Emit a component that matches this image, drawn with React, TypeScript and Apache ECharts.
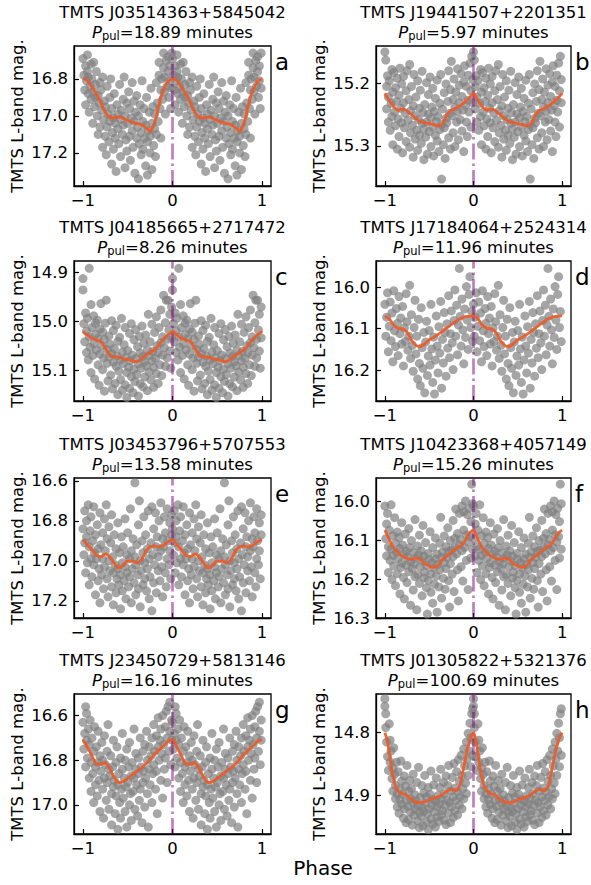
import React, { useEffect, useRef } from 'react';
import * as echarts from 'echarts';

const FONT = 'DejaVu Sans';

// star names, periods (minutes) and panel letters
const starNames = [
  'TMTS J03514363+5845042', 'TMTS J19441507+2201351',
  'TMTS J04185665+2717472', 'TMTS J17184064+2524314',
  'TMTS J03453796+5707553', 'TMTS J10423368+4057149',
  'TMTS J23450729+5813146', 'TMTS J01305822+5321376',
];
const periods = ['18.89', '5.97', '8.26', '11.96', '13.58', '15.26', '16.16', '100.69'];
const letters = ['a', 'b', 'c', 'd', 'e', 'f', 'g', 'h'];

// y-axis (magnitude) limits, bright at top
const yLimits = [
  [16.622, 17.379], [15.1405, 15.364],
  [14.876, 15.162], [15.936, 16.275],
  [16.586, 17.286], [15.94, 16.3],
  [16.503, 17.131], [14.7386, 14.961],
];
const yTicks = [
  [16.8, 17.0, 17.2], [15.2, 15.3],
  [14.9, 15.0, 15.1], [16.0, 16.1, 16.2],
  [16.6, 16.8, 17.0, 17.2], [16.0, 16.1, 16.2, 16.3],
  [16.6, 16.8, 17.0], [14.8, 14.9],
];
const xTicks = [-1, 0, 1];

// folded photometry, phase 0..1 (shown twice, -1..1)
const ptsA = [[.00,16.69],[.01,16.78],[.02,16.86],[.03,16.73],[.03,16.94],[.04,16.81],[.05,16.76],
[.05,16.67],[.06,16.88],[.06,16.79],[.07,16.98],[.08,16.84],[.09,16.72],[.09,16.91],
[.10,16.80],[.11,17.04],[.11,16.87],[.12,16.71],[.13,16.95],[.14,16.83],[.14,16.90],
[.15,16.76],[.16,17.00],[.17,16.89],[.17,17.10],[.18,16.93],[.19,16.82],[.19,17.06],
[.20,16.86],[.21,16.97],[.22,17.17],[.22,16.79],[.23,17.02],[.24,16.92],[.25,17.11],
[.25,16.95],[.26,17.21],[.27,16.84],[.27,17.06],[.28,16.99],[.29,17.14],[.30,16.90],
[.30,17.03],[.31,16.80],[.32,17.26],[.32,16.96],[.33,17.09],[.34,17.01],[.34,17.18],
[.35,16.88],[.36,17.12],[.36,17.04],[.37,17.30],[.38,16.94],[.39,17.07],[.39,16.99],
[.40,17.15],[.41,16.83],[.42,17.02],[.42,17.22],[.43,16.97],[.44,17.10],[.45,16.91],
[.45,17.05],[.46,16.79],[.47,17.28],[.47,17.00],[.48,17.13],[.49,16.93],[.49,17.19],
[.50,17.04],[.51,16.87],[.52,17.11],[.52,16.96],[.53,17.24],[.54,17.01],[.55,16.82],
[.55,17.08],[.56,17.17],[.57,16.92],[.57,17.03],[.58,17.31],[.59,16.98],[.60,17.12],
[.60,16.89],[.61,17.06],[.62,17.34],[.62,17.00],[.63,17.15],[.64,16.94],[.65,17.21],
[.65,17.09],[.66,16.81],[.67,17.03],[.67,17.18],[.68,16.96],[.69,17.12],[.70,17.27],
[.70,17.05],[.71,16.90],[.72,17.14],[.72,17.32],[.73,17.08],[.74,16.98],[.75,17.20],
[.75,17.11],[.76,16.85],[.77,17.29],[.77,17.04],[.78,16.95],[.79,17.16],[.80,17.07],
[.80,16.99],[.81,17.22],[.82,16.82],[.82,17.10],[.83,16.93],[.84,17.03],[.85,16.78],
[.85,16.71],[.86,16.96],[.87,16.86],[.87,17.12],[.88,16.80],[.89,16.91],[.90,16.74],
[.90,16.66],[.91,16.87],[.91,16.79],[.92,16.99],[.93,16.70],[.94,16.84],[.95,16.76],
[.95,16.68],[.96,16.90],[.97,16.81],[.97,16.73],[.98,16.96],[.99,16.66],[.99,16.85]];

const ptsB = [[.00,15.150],[.01,15.163],[.02,15.205],[.02,15.241],[.03,15.188],[.04,15.262],[.04,15.222],
[.05,15.196],[.06,15.275],[.07,15.232],[.08,15.178],[.08,15.253],[.09,15.214],[.09,15.298],
[.10,15.183],[.11,15.246],[.12,15.268],[.12,15.207],[.13,15.229],[.14,15.305],[.14,15.192],
[.15,15.257],[.16,15.219],[.16,15.285],[.17,15.176],[.18,15.240],[.19,15.263],[.19,15.201],
[.20,15.311],[.21,15.231],[.21,15.189],[.22,15.271],[.23,15.248],[.24,15.212],[.24,15.293],
[.25,15.180],[.26,15.259],[.27,15.226],[.28,15.302],[.28,15.170],[.29,15.244],[.29,15.279],
[.30,15.205],[.31,15.267],[.32,15.236],[.32,15.318],[.33,15.186],[.34,15.252],[.34,15.289],
[.35,15.222],[.36,15.275],[.37,15.196],[.37,15.307],[.38,15.258],[.39,15.240],[.39,15.283],
[.40,15.211],[.41,15.296],[.42,15.264],[.42,15.181],[.43,15.247],[.44,15.322],[.44,15.273],
[.45,15.234],[.46,15.286],[.47,15.199],[.47,15.262],[.48,15.313],[.49,15.249],[.49,15.218],
[.50,15.277],[.51,15.190],[.52,15.255],[.52,15.301],[.53,15.238],[.54,15.270],[.54,15.208],
[.55,15.316],[.56,15.245],[.57,15.283],[.57,15.224],[.58,15.261],[.59,15.195],[.59,15.292],
[.60,15.253],[.61,15.309],[.62,15.232],[.62,15.274],[.63,15.186],[.64,15.353],[.64,15.266],
[.65,15.241],[.66,15.298],[.67,15.215],[.67,15.271],[.68,15.320],[.69,15.256],[.69,15.201],
[.70,15.263],[.71,15.229],[.72,15.287],[.72,15.180],[.73,15.248],[.74,15.305],[.74,15.210],
[.75,15.165],[.76,15.252],[.77,15.226],[.77,15.279],[.78,15.193],[.79,15.238],[.79,15.301],
[.80,15.214],[.81,15.262],[.82,15.177],[.82,15.245],[.83,15.290],[.84,15.203],[.84,15.231],
[.85,15.258],[.86,15.185],[.87,15.221],[.87,15.276],[.88,15.243],[.89,15.198],[.89,15.309],
[.90,15.172],[.91,15.236],[.92,15.262],[.92,15.205],[.93,15.285],[.94,15.227],[.94,15.187],
[.95,15.246],[.96,15.168],[.97,15.212],[.97,15.270],[.98,15.157],[.99,15.231],[.99,15.194]];

const ptsC = [[.00,14.912],[.00,14.935],[.01,15.004],[.02,15.041],[.03,14.982],[.04,15.063],[.04,15.019],
[.05,14.993],[.06,15.078],[.07,14.891],[.07,15.031],[.08,15.052],[.09,14.965],[.09,15.104],
[.10,15.012],[.11,15.069],[.12,14.988],[.12,15.045],[.13,15.117],[.14,15.026],[.14,15.003],
[.15,15.058],[.16,14.997],[.17,15.088],[.17,15.034],[.18,15.130],[.19,15.015],[.19,15.066],
[.20,14.963],[.21,15.049],[.22,15.098],[.22,15.021],[.23,15.074],[.24,15.142],[.24,15.036],
[.25,15.003],[.26,14.956],[.27,15.085],[.27,15.057],[.28,15.121],[.29,15.029],[.29,15.072],
[.30,15.046],[.31,15.109],[.32,14.998],[.32,15.065],[.33,15.137],[.34,15.083],[.34,15.018],
[.35,15.055],[.36,15.126],[.37,15.091],[.37,15.007],[.38,15.070],[.39,15.149],[.39,15.040],
[.40,15.101],[.41,15.032],[.42,15.078],[.42,15.118],[.43,14.993],[.44,15.062],[.44,15.140],
[.45,15.086],[.46,15.047],[.47,15.129],[.47,15.012],[.48,15.073],[.49,15.104],[.49,15.155],
[.50,15.059],[.51,15.093],[.52,15.024],[.52,15.136],[.53,15.080],[.54,15.004],[.54,15.112],
[.55,15.068],[.56,15.145],[.57,15.037],[.57,15.097],[.58,15.122],[.59,15.075],[.59,15.016],
[.60,15.108],[.61,15.051],[.62,15.152],[.62,15.086],[.63,15.030],[.64,15.127],[.64,15.064],
[.65,15.095],[.66,15.009],[.67,15.071],[.67,15.133],[.68,15.044],[.69,15.113],[.69,15.082],
[.70,15.027],[.71,15.090],[.72,15.141],[.72,15.058],[.73,14.985],[.74,15.103],[.74,15.069],
[.75,15.041],[.76,15.119],[.77,15.080],[.77,15.005],[.78,15.061],[.79,15.134],[.79,15.093],
[.80,15.022],[.81,15.075],[.82,14.990],[.82,15.106],[.83,15.049],[.84,15.126],[.84,15.064],
[.85,15.012],[.86,15.088],[.87,14.976],[.87,15.043],[.88,15.110],[.89,15.031],[.89,15.068],
[.90,14.946],[.91,15.053],[.92,15.002],[.92,15.091],[.93,14.956],[.94,15.036],[.94,15.074],
[.95,14.956],[.96,15.017],[.97,15.060],[.97,14.985],[.98,15.095],[.99,15.033],[.99,14.970]];

const ptsD = [[.00,16.041],[.01,16.118],[.02,16.072],[.03,16.013],[.04,16.156],
[.05,16.094],[.06,16.035],[.07,16.129],[.08,16.062],[.09,16.180],
[.10,16.008],[.11,16.105],[.12,16.143],[.13,16.051],[.14,16.087],
[.15,16.165],[.16,16.022],[.17,16.112],[.18,16.074],[.19,16.137],
[.20,16.046],[.21,16.190],[.22,16.098],[.23,16.131],[.24,16.015],
[.25,16.083],[.26,16.152],[.27,16.118],[.28,15.995],[.29,16.172],
[.30,16.066],[.31,16.140],[.32,16.203],[.33,16.097],[.34,16.031],
[.35,16.161],[.36,16.118],[.37,16.222],[.38,16.077],[.39,16.184],
[.40,16.238],[.41,16.049],[.42,16.146],[.43,16.196],[.44,16.109],
[.45,16.255],[.46,16.132],[.47,16.082],[.48,16.213],[.49,16.166],
[.50,16.104],[.51,16.188],[.52,16.041],[.53,16.149],[.54,16.230],
[.55,16.120],[.56,16.258],[.57,16.176],[.58,16.069],[.59,16.142],
[.60,16.207],[.61,16.095],[.62,16.159],[.63,16.034],[.64,16.244],
[.65,16.126],[.66,16.183],[.67,16.061],[.68,16.109],[.69,16.215],
[.70,16.088],[.71,16.147],[.72,16.020],[.73,16.170],[.74,16.112],
[.75,16.057],[.76,16.134],[.77,16.199],[.78,16.080],[.79,16.006],
[.80,16.118],[.81,16.043],[.82,16.163],[.83,16.091],[.84,15.954],
[.85,16.070],[.86,16.142],[.87,16.028],[.88,16.103],[.89,16.185],
[.90,16.052],[.91,16.121],[.92,15.998],[.93,16.079],[.94,16.150],
[.95,16.017],[.96,15.974],[.97,16.097],[.98,16.058],[.99,16.131]];

const ptsE = [[.00,16.84],[.01,16.97],[.02,16.75],[.02,16.91],[.03,17.06],[.04,16.88],[.04,16.80],
[.05,17.01],[.06,16.72],[.07,16.93],[.07,17.12],[.08,16.85],[.09,16.99],[.09,16.78],
[.10,17.08],[.11,16.90],[.12,16.73],[.12,17.02],[.13,16.96],[.14,17.17],[.14,16.87],
[.15,16.99],[.16,16.82],[.17,17.10],[.17,16.94],[.18,17.04],[.19,16.76],[.19,17.21],
[.20,16.92],[.21,17.07],[.22,16.86],[.22,16.99],[.23,17.14],[.24,16.79],[.24,17.03],
[.25,16.95],[.26,16.72],[.27,17.09],[.27,16.89],[.28,17.18],[.29,17.00],[.29,16.83],
[.30,17.05],[.31,16.91],[.32,17.13],[.32,16.77],[.33,16.98],[.34,17.22],[.34,17.06],
[.35,16.87],[.36,17.02],[.37,17.16],[.37,16.94],[.38,17.09],[.39,16.81],[.39,17.04],
[.40,17.12],[.41,16.96],[.42,17.24],[.42,17.07],[.43,16.88],[.44,17.01],[.44,17.15],
[.45,16.93],[.46,17.10],[.47,16.79],[.47,17.03],[.48,17.19],[.49,16.97],[.49,17.06],
[.50,16.86],[.51,17.13],[.52,16.99],[.52,17.08],[.53,16.74],[.54,17.21],[.54,16.95],
[.55,17.04],[.56,16.89],[.57,17.11],[.58,16.61],[.58,16.98],[.59,17.17],[.59,17.02],
[.60,16.92],[.61,17.07],[.62,16.82],[.62,17.14],[.63,16.70],[.64,17.00],[.64,17.23],
[.65,17.05],[.66,16.90],[.67,17.12],[.67,16.96],[.68,16.78],[.69,17.09],[.69,17.01],
[.70,16.87],[.71,17.15],[.72,16.94],[.72,17.04],[.73,16.75],[.74,17.19],[.74,16.99],
[.75,17.08],[.76,16.91],[.77,16.73],[.77,17.25],[.78,16.97],[.79,17.11],[.79,16.84],
[.80,17.02],[.81,16.76],[.82,16.93],[.82,17.16],[.83,16.88],[.84,17.05],[.84,16.98],
[.85,16.80],[.86,17.10],[.87,16.95],[.87,16.71],[.88,17.03],[.89,16.89],[.89,17.18],
[.90,16.93],[.91,16.78],[.92,17.06],[.92,16.86],[.93,17.13],[.94,16.99],[.94,16.74],
[.95,16.90],[.96,17.02],[.97,16.81],[.97,16.95],[.98,17.09],[.99,16.87],[.99,16.77]];

const ptsF = [[.00,16.012],[.01,16.096],[.02,16.058],[.02,16.140],[.03,16.031],[.04,16.117],[.04,16.183],
[.05,16.074],[.06,16.152],[.07,16.009],[.07,16.123],[.08,16.201],[.09,16.088],[.09,16.139],
[.10,16.166],[.11,16.042],[.12,16.108],[.12,16.217],[.13,16.131],[.14,16.079],[.14,16.186],
[.15,16.147],[.16,16.093],[.17,16.238],[.17,16.121],[.18,16.170],[.19,16.055],[.19,16.158],
[.20,16.112],[.21,16.196],[.22,16.137],[.22,16.251],[.23,16.084],[.24,16.164],[.24,16.128],
[.25,16.209],[.26,16.143],[.27,16.070],[.27,16.181],[.28,16.119],[.29,16.267],[.29,16.155],
[.30,16.101],[.31,16.173],[.32,16.132],[.32,16.228],[.33,16.161],[.34,16.047],[.34,16.194],
[.35,16.146],[.36,16.279],[.37,16.115],[.37,16.189],[.38,16.138],[.39,16.211],[.39,16.087],
[.40,16.168],[.41,16.127],[.42,16.243],[.42,16.153],[.43,16.062],[.44,16.197],[.44,16.141],
[.45,16.182],[.46,16.106],[.47,16.222],[.47,16.165],[.48,16.290],[.49,16.134],[.49,16.203],
[.50,16.149],[.51,16.078],[.52,16.186],[.52,16.234],[.53,16.157],[.54,16.119],[.54,16.262],
[.55,16.171],[.56,16.213],[.57,16.094],[.57,16.148],[.58,16.192],[.59,16.285],[.59,16.136],
[.60,16.162],[.61,16.220],[.62,16.108],[.62,16.176],[.63,16.041],[.64,16.144],[.64,16.249],
[.65,16.130],[.66,16.198],[.67,16.089],[.67,16.158],[.68,16.226],[.69,16.117],[.69,16.173],
[.70,16.144],[.71,16.068],[.72,16.204],[.72,16.129],[.73,16.272],[.74,16.101],[.74,16.160],
[.75,16.125],[.76,16.187],[.77,16.049],[.77,16.142],[.78,16.232],[.79,16.095],[.79,16.118],
[.80,16.020],[.81,16.135],[.82,16.176],[.82,16.083],[.83,16.256],[.84,16.112],[.84,16.031],
[.85,16.098],[.86,16.168],[.87,16.012],[.87,16.127],[.88,16.205],[.89,16.074],[.89,16.027],
[.90,16.119],[.91,15.999],[.92,16.152],[.92,16.086],[.93,16.034],[.94,16.227],[.94,16.105],
[.95,16.018],[.96,16.091],[.97,16.146],[.97,16.052],[.98,15.956],[.99,16.123],[.99,16.006]];

const ptsG = [[.00,16.63],[.01,16.75],[.02,16.68],[.03,16.56],[.03,16.83],[.04,16.71],[.04,16.59],
[.05,16.79],[.06,16.66],[.07,16.88],[.07,16.73],[.08,16.62],[.09,16.81],[.09,16.94],
[.10,16.70],[.11,16.86],[.12,16.76],[.12,16.99],[.13,16.65],[.14,16.83],[.14,16.91],
[.15,16.74],[.16,16.96],[.17,16.81],[.17,16.67],[.18,16.89],[.19,17.03],[.19,16.78],
[.20,16.85],[.21,16.72],[.22,16.93],[.22,16.80],[.23,17.06],[.24,16.88],[.24,16.69],
[.25,16.82],[.26,16.98],[.27,16.76],[.27,16.90],[.28,16.64],[.29,16.84],[.29,17.02],
[.30,16.87],[.31,16.78],[.32,16.95],[.32,17.09],[.33,16.83],[.34,16.71],[.34,16.92],
[.35,16.89],[.36,17.04],[.37,16.81],[.37,16.96],[.38,16.74],[.39,16.91],[.39,17.11],
[.40,16.86],[.41,16.99],[.42,16.79],[.42,17.06],[.43,16.93],[.44,16.84],[.44,16.68],
[.45,16.97],[.46,16.88],[.47,17.03],[.47,16.80],[.48,16.92],[.49,17.10],[.49,16.75],
[.50,16.90],[.51,16.83],[.52,17.00],[.52,16.72],[.53,16.95],[.54,16.87],[.54,17.07],
[.55,16.81],[.56,16.94],[.57,16.66],[.57,16.88],[.58,17.02],[.59,16.84],[.59,16.77],
[.60,16.91],[.61,17.05],[.62,16.79],[.62,16.86],[.63,16.98],[.64,16.70],[.64,16.93],
[.65,16.83],[.66,17.08],[.67,16.76],[.67,16.90],[.68,16.85],[.69,17.01],[.69,16.73],
[.70,16.88],[.71,16.67],[.72,16.95],[.72,16.80],[.73,17.10],[.74,16.84],[.74,16.74],
[.75,16.91],[.76,16.78],[.77,16.99],[.77,16.70],[.78,16.86],[.79,16.64],[.79,16.82],
[.80,16.76],[.81,16.93],[.82,16.69],[.82,16.85],[.83,17.04],[.84,16.74],[.84,16.61],
[.85,16.80],[.86,16.71],[.87,16.89],[.87,16.66],[.88,16.77],[.89,16.97],[.89,16.60],
[.90,16.73],[.91,16.84],[.92,16.65],[.92,16.79],[.93,16.58],[.94,16.90],[.94,16.70],
[.95,16.56],[.96,16.76],[.97,16.54],[.97,16.67],[.98,16.82],[.99,16.62],[.99,16.71]];

const ptsH = [[.00,14.746],[.00,14.758],[.01,14.770],[.01,14.792],[.02,14.815],[.03,14.838],[.04,14.860],
[.05,14.786],[.06,14.812],[.06,14.847],[.07,14.829],[.08,14.873],[.09,14.856],[.09,14.893],
[.10,14.824],[.11,14.866],[.12,14.905],[.12,14.884],[.13,14.847],[.14,14.897],[.14,14.918],
[.15,14.862],[.16,14.928],[.17,14.889],[.17,14.906],[.18,14.845],[.19,14.914],[.19,14.877],
[.20,14.898],[.21,14.936],[.22,14.869],[.22,14.921],[.23,14.885],[.24,14.943],[.24,14.908],
[.25,14.852],[.26,14.917],[.27,14.893],[.27,14.938],[.28,14.876],[.29,14.905],[.29,14.926],
[.30,14.889],[.31,14.947],[.32,14.912],[.32,14.866],[.33,14.931],[.34,14.899],[.34,14.921],
[.35,14.908],[.36,14.879],[.37,14.940],[.37,14.916],[.38,14.855],[.39,14.927],[.39,14.951],
[.40,14.903],[.41,14.933],[.42,14.884],[.42,14.919],[.43,14.948],[.44,14.896],[.44,14.925],
[.45,14.868],[.46,14.912],[.47,14.942],[.47,14.902],[.48,14.929],[.49,14.887],[.49,14.954],
[.50,14.921],[.51,14.898],[.52,14.937],[.52,14.861],[.53,14.915],[.54,14.945],[.54,14.906],
[.55,14.883],[.56,14.926],[.57,14.909],[.57,14.950],[.58,14.872],[.59,14.918],[.59,14.934],
[.60,14.900],[.61,14.941],[.62,14.887],[.62,14.913],[.63,14.858],[.64,14.930],[.64,14.905],
[.65,14.924],[.66,14.879],[.67,14.939],[.67,14.897],[.68,14.916],[.69,14.869],[.69,14.946],
[.70,14.907],[.71,14.884],[.72,14.928],[.72,14.852],[.73,14.911],[.74,14.943],[.74,14.893],
[.75,14.918],[.76,14.871],[.77,14.935],[.77,14.902],[.78,14.849],[.79,14.924],[.79,14.888],
[.80,14.908],[.81,14.862],[.82,14.931],[.82,14.894],[.83,14.843],[.84,14.915],[.84,14.877],
[.85,14.902],[.86,14.836],[.87,14.921],[.87,14.868],[.88,14.889],[.89,14.826],[.89,14.905],
[.90,14.853],[.91,14.880],[.92,14.815],[.92,14.897],[.93,14.842],[.94,14.868],[.94,14.801],
[.95,14.829],[.96,14.785],[.97,14.854],[.97,14.808],[.98,14.770],[.99,14.762],[.99,14.836]];

// smoothed mean light curves, phase 0..1
const curveA = [[0,16.80],[.04,16.805],[.08,16.83],[.12,16.86],[.16,16.89],[.2,16.93],[.24,16.97],[.28,17.0],[.32,17.01],[.36,17.01],[.4,17.005],[.44,17.01],[.48,17.02],[.52,17.03],[.56,17.035],[.6,17.04],[.64,17.045],[.68,17.055],[.72,17.07],[.75,17.085],[.78,17.06],[.81,17.02],[.84,16.96],[.87,16.9],[.9,16.86],[.93,16.83],[.96,16.81],[1,16.80]];
const curveB = [[0,15.216],[.05,15.228],[.1,15.237],[.15,15.243],[.2,15.241],[.25,15.244],[.3,15.25],[.35,15.256],[.4,15.261],[.45,15.263],[.5,15.264],[.55,15.266],[.6,15.268],[.65,15.265],[.7,15.25],[.75,15.243],[.8,15.24],[.85,15.236],[.9,15.23],[.95,15.224],[1,15.216]];
const curveC = [[0,15.020],[.05,15.027],[.1,15.034],[.15,15.037],[.2,15.041],[.25,15.054],[.3,15.068],[.35,15.072],[.4,15.072],[.45,15.076],[.5,15.077],[.55,15.08],[.6,15.082],[.65,15.076],[.7,15.069],[.75,15.063],[.8,15.057],[.85,15.047],[.9,15.035],[.95,15.027],[1,15.020]];
const curveD = [[0,16.069],[.05,16.076],[.1,16.091],[.15,16.099],[.2,16.1],[.25,16.108],[.3,16.127],[.35,16.14],[.4,16.143],[.45,16.136],[.5,16.127],[.55,16.121],[.6,16.114],[.65,16.106],[.7,16.098],[.75,16.09],[.8,16.082],[.85,16.076],[.9,16.071],[.95,16.07],[1,16.069]];
const curveE = [[0,16.895],[.05,16.92],[.1,16.945],[.15,16.97],[.2,16.98],[.25,16.965],[.3,16.98],[.35,17.012],[.4,17.037],[.45,17.022],[.5,17.0],[.55,17.0],[.6,17.01],[.65,16.997],[.7,16.955],[.75,16.93],[.8,16.927],[.85,16.93],[.9,16.922],[.95,16.905],[1,16.895]];
const curveF = [[0,16.074],[.05,16.098],[.1,16.12],[.15,16.132],[.2,16.141],[.25,16.147],[.3,16.149],[.35,16.146],[.4,16.149],[.45,16.16],[.5,16.166],[.55,16.17],[.6,16.165],[.65,16.149],[.7,16.141],[.75,16.132],[.8,16.122],[.85,16.115],[.9,16.103],[.95,16.083],[1,16.074]];
const curveG = [[0,16.708],[.05,16.742],[.1,16.78],[.15,16.815],[.2,16.818],[.25,16.812],[.3,16.84],[.35,16.877],[.4,16.9],[.45,16.895],[.5,16.88],[.55,16.865],[.6,16.85],[.65,16.835],[.7,16.818],[.75,16.796],[.8,16.773],[.85,16.754],[.9,16.735],[.95,16.717],[1,16.708]];
const curveH = [[0,14.8],[.03,14.815],[.06,14.842],[.09,14.868],[.12,14.885],[.16,14.894],[.2,14.897],[.25,14.9],[.3,14.906],[.35,14.91],[.4,14.911],[.45,14.91],[.5,14.907],[.55,14.904],[.6,14.902],[.65,14.898],[.7,14.893],[.75,14.89],[.8,14.892],[.84,14.886],[.87,14.868],[.9,14.848],[.93,14.828],[.96,14.812],[1,14.8]];

const allPts = [ptsA, ptsB, ptsC, ptsD, ptsE, ptsF, ptsG, ptsH];
const allCurves = [curveA, curveB, curveC, curveD, curveE, curveF, curveG, curveH];

// layout
const colLeft = [74, 376];
const colWidth = [197, 195];
const rowTop = [46, 261, 478, 694];
const PANEL_H = 140;

const twoCycles = (p: number[][]) => [...p.map((q) => [q[0] - 1, q[1]]), ...p];
const twoCyclesLine = (p: number[][]) => [...p.map((q) => [q[0] - 1, q[1]]), ...p.slice(1)];

export default function App() {
  const ref = useRef<HTMLDivElement>(null);
  useEffect(() => {
    if (!ref.current) return;
    const chart = echarts.init(ref.current, null, { renderer: 'svg' });
    const grids: any[] = [];
    const xAxes: any[] = [];
    const yAxes: any[] = [];
    const series: any[] = [];
    const graphics: any[] = [];
    for (let i = 0; i < 8; i++) {
      const col = i % 2;
      const row = Math.floor(i / 2);
      const left = colLeft[col];
      const width = colWidth[col];
      const top = rowTop[row];
      const [ymin, ymax] = yLimits[i];
      grids.push({ left, top, width, height: PANEL_H, show: true, borderColor: '#000', borderWidth: 1.3, backgroundColor: 'transparent' });
      xAxes.push({
        gridIndex: i, type: 'value', min: -1.1, max: 1.1,
        axisLine: { show: true, onZero: false, lineStyle: { color: '#000', width: 1.3 } },
        axisTick: { show: true, inside: true, length: 5, customValues: xTicks, lineStyle: { color: '#000', width: 1.2 } },
        axisLabel: { show: true, customValues: xTicks, formatter: (v: number) => (v < 0 ? '\u2212' + Math.abs(v) : String(v)), fontSize: 16.5, fontFamily: FONT, color: '#000', margin: 6 },
        splitLine: { show: false },
      });
      yAxes.push({
        gridIndex: i, type: 'value', inverse: true, min: ymin, max: ymax,
        axisLine: { show: true, onZero: false, lineStyle: { color: '#000', width: 1.3 } },
        axisTick: { show: true, inside: true, length: 5, customValues: yTicks[i], lineStyle: { color: '#000', width: 1.2 } },
        axisLabel: { show: true, customValues: yTicks[i], formatter: (v: number) => v.toFixed(1), fontSize: 16.5, fontFamily: FONT, color: '#000', margin: 6 },
        splitLine: { show: false },
      });
      series.push({
        type: 'scatter', xAxisIndex: i, yAxisIndex: i, data: twoCycles(allPts[i]),
        symbol: 'circle', symbolSize: 9, itemStyle: { color: '#808080', opacity: 0.7 }, z: 2, silent: true, clip: true,
      });
      series.push({
        type: 'line', xAxisIndex: i, yAxisIndex: i, data: [[0, ymax], [0, ymin]], symbol: 'none',
        lineStyle: { color: '#800080', opacity: 0.5, width: 2.7, type: [16, 4, 2.5, 4] }, z: 3, silent: true,
      });
      series.push({
        type: 'line', xAxisIndex: i, yAxisIndex: i, data: twoCyclesLine(allCurves[i]), symbol: 'none', smooth: 0.35,
        lineStyle: { color: '#ef5a26', width: 2.8, opacity: 0.92 }, z: 4, silent: true,
      });
      const cx = left + width / 2;
      graphics.push({ type: 'text', x: cx, y: top - 34, style: { text: starNames[i], fontFamily: FONT, fontSize: 16.5, fill: '#000', align: 'center', verticalAlign: 'middle' } });
      graphics.push({
        type: 'text', x: cx, y: top - 14,
        style: {
          text: '{i|P}{s|pul}{n|=' + periods[i] + ' minutes}', align: 'center', verticalAlign: 'middle',
          rich: {
            i: { fontFamily: FONT, fontSize: 16.5, fontStyle: 'italic', fill: '#000', lineHeight: 20, verticalAlign: 'middle' },
            s: { fontFamily: FONT, fontSize: 11.5, fill: '#000', lineHeight: 12, verticalAlign: 'bottom' },
            n: { fontFamily: FONT, fontSize: 16.5, fill: '#000', lineHeight: 20, verticalAlign: 'middle' },
          },
        },
      });
      graphics.push({ type: 'text', x: left + width + 4, y: top + 27, style: { text: letters[i], fontFamily: FONT, fontSize: 23, fill: '#000', align: 'left', verticalAlign: 'bottom' } });
      graphics.push({ type: 'text', x: left - 57, y: top + PANEL_H / 2, rotation: Math.PI / 2, style: { text: 'TMTS L-band mag.', fontFamily: FONT, fontSize: 16.5, fill: '#000', align: 'center', verticalAlign: 'middle' } });
    }
    graphics.push({ type: 'text', x: 323, y: 868, style: { text: 'Phase', fontFamily: FONT, fontSize: 20, fill: '#000', align: 'center', verticalAlign: 'middle' } });
    chart.setOption({
      animation: false,
      backgroundColor: '#fff',
      grid: grids,
      xAxis: xAxes,
      yAxis: yAxes,
      series,
      graphic: graphics,
    });
    return () => chart.dispose();
  }, []);
  return <div ref={ref} style={{ position: 'absolute', left: 0, top: 0, width: 591, height: 885, background: '#fff' }} />;
}
